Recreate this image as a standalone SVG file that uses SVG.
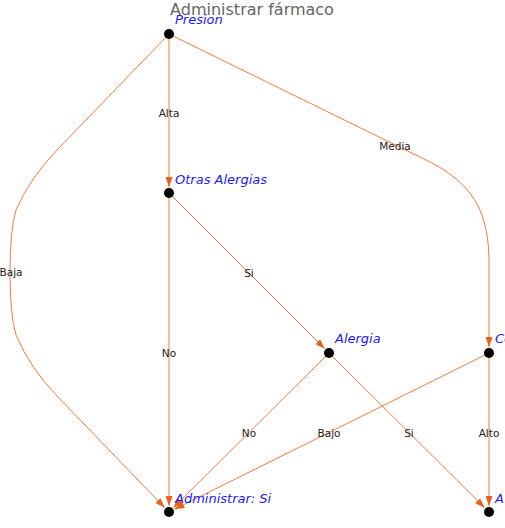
<svg xmlns="http://www.w3.org/2000/svg" width="505" height="528" viewBox="0 0 505 528">
<style>
.edge{fill:none;stroke:#ee7d3b;stroke-width:1}
.elab{font-family:"DejaVu Sans",sans-serif;font-size:10.5px;fill:#222;text-anchor:middle}
.nlab{font-family:"DejaVu Sans",sans-serif;font-size:13px;font-style:italic;fill:#1a1aff}
.dot{fill:#000}
.title{font-family:"DejaVu Sans",sans-serif;font-size:16px;fill:#666;text-anchor:middle}
</style>
<defs>
<marker id="ah" markerUnits="userSpaceOnUse" markerWidth="10" markerHeight="7" refX="10" refY="3.5" orient="auto">
<path d="M0,0 L10,3.5 L0,7 z" fill="#e8601c"/>
</marker>
</defs>
<rect width="505" height="528" fill="#fff"/>
<text class="title" x="252" y="15">Administrar fármaco</text>
<g id="connectors">
<path class="edge" marker-end="url(#ah)" d="M169,34 L169,187"/>
<path class="edge" marker-end="url(#ah)" d="M169,193 L169,506"/>
<path class="edge" marker-end="url(#ah)" d="M169,193 L324.8,348.8"/>
<path class="edge" marker-end="url(#ah)" d="M329,353 L173.3,507.8"/>
<path class="edge" marker-end="url(#ah)" d="M329,353 L484.7,507.8"/>
<path class="edge" marker-end="url(#ah)" d="M489,353 L174.4,509.3"/>
<path class="edge" marker-end="url(#ah)" d="M489,353 L489,506"/>
<path class="edge" marker-end="url(#ah)" d="M169,34 L57,150 Q30,178 16,210 Q10,230 10,272 Q10,315 16,335 Q30,368 57,396 L164.8,507.8"/>
<path class="edge" marker-end="url(#ah)" d="M169,34 L430,162 Q470,182 482,215 Q489,235 489,260 L489,347"/>
<text class="elab" x="169" y="117">Alta</text>
<text class="elab" x="11" y="276">Baja</text>
<text class="elab" x="395" y="150">Media</text>
<text class="elab" x="169" y="357">No</text>
<text class="elab" x="249" y="277">Si</text>
<text class="elab" x="249" y="437">No</text>
<text class="elab" x="409" y="437">Si</text>
<text class="elab" x="329" y="437">Bajo</text>
<text class="elab" x="489" y="437">Alto</text>
</g>
<g id="presion"><circle class="dot" cx="169" cy="34" r="5"/><text class="nlab" x="175" y="24">Presion</text></g>
<g id="otras-alergias"><circle class="dot" cx="169" cy="193" r="5"/><text class="nlab" x="175" y="184">Otras Alergias</text></g>
<g id="alergia"><circle class="dot" cx="329" cy="353" r="5"/><text class="nlab" x="335" y="343">Alergia</text></g>
<g id="co"><circle class="dot" cx="489" cy="353" r="5"/><text class="nlab" x="495" y="343">Co</text></g>
<g id="administrar-si"><circle class="dot" cx="169" cy="512" r="5"/><text class="nlab" x="175" y="503">Administrar: Si</text></g>
<g id="a"><circle class="dot" cx="489" cy="512" r="5"/><text class="nlab" x="495" y="503">A</text></g>
</svg>
